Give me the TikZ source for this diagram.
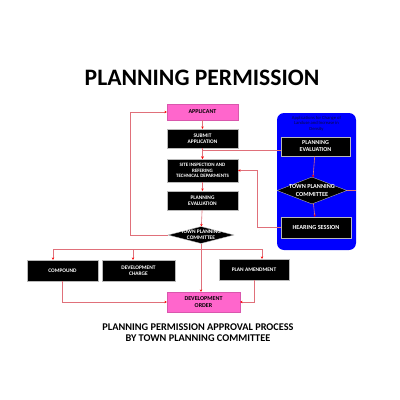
\documentclass[tikz,border=0pt]{standalone}
\usepackage{fontspec}
\setmainfont{Carlito}
\usetikzlibrary{shapes.geometric,arrows.meta,backgrounds}
\definecolor{pinkbox}{HTML}{FF66CC}
\definecolor{lineRed}{HTML}{E0707A}
\definecolor{panelBlue}{HTML}{0000FF}
\definecolor{panelText}{HTML}{0A0A40}
\begin{document}
\begin{tikzpicture}[x=1pt,y=-1pt,
  blk/.style={rectangle,fill=black,draw=gray!55,line width=0.4pt,text=white,
    font=\bfseries\fontsize{5.4}{6.2}\selectfont,align=center,inner sep=0pt},
  pnk/.style={rectangle,fill=pinkbox,draw=pinkbox!85!black,line width=0.3pt,text=black,
    font=\bfseries\fontsize{6}{7}\selectfont,align=center,inner sep=0pt},
  dia/.style={diamond,fill=black,draw=gray!40,line width=0.3pt,inner sep=0pt},
  diatext/.style={text=white,font=\bfseries\fontsize{5.4}{6.2}\selectfont,align=center,inner sep=0pt},
  con/.style={draw=lineRed,line width=0.6pt,-{Stealth[length=2.4pt,width=2.4pt,red]}},
  plain/.style={draw=lineRed,line width=0.6pt}
]
\useasboundingbox[fill=white] (0,0) rectangle (400,400);

% title
\node (title) at (202,78) {\fontsize{23.6}{28}\selectfont\bfseries PLANNING PERMISSION};

% main column
\node[pnk,minimum width=71pt,minimum height=16pt] (app) at (202.5,112) {APPLICANT};
\node[blk,minimum width=71pt,minimum height=19pt] (sub) at (202.5,138.5) {SUBMIT\\APPLICATION};
\node[blk,minimum width=71pt,minimum height=23pt,font=\bfseries\fontsize{5}{5.8}\selectfont] (site) at (202.5,170.5) {SITE INSPECTION AND\\REFERING\\TECHNICAL DEPARMENTS};
\node[blk,minimum width=71pt,minimum height=19pt] (pe) at (202.5,200.5) {PLANNING\\EVALUATION};
\node[dia,minimum width=66pt,minimum height=17pt] (d1) at (201,235) {};
\node[diatext] (d1t) at (d1) {TOWN PLANNING\\COMMITTEE};

% bottom row
\node[blk,minimum width=71pt,minimum height=21pt] (comp) at (62.5,270.5) {COMPOUND};
\node[blk,minimum width=73pt,minimum height=21pt] (chg) at (138.5,270.5) {DEVELOPMENT\\CHARGE};
\node[blk,minimum width=70pt,minimum height=21pt] (amd) at (254,269.5) {PLAN AMENDMENT};
\node[pnk,minimum width=73pt,minimum height=20pt] (dord) at (203.5,302) {DEVELOPMENT\\ORDER};

% blue panel
\node[rectangle,rounded corners=7pt,fill=panelBlue,minimum width=79pt,minimum height=137pt,inner sep=0pt] (panel) at (316.5,181.5) {};
\node[text=panelText,font=\fontsize{4.6}{5.4}\selectfont,align=center,inner sep=0pt] (ptxt) at (316.5,123.5)
  {Applications for Change of\\Landuse and Increase in\\Density};
\node[blk,minimum width=69pt,minimum height=19pt,font=\bfseries\fontsize{6}{7}\selectfont] (pe2) at (315.5,146.5) {PLANNING\\EVALUATION};
\node[dia,minimum width=70pt,minimum height=27pt] (d2) at (312,190.5) {};
\node[diatext,font=\bfseries\fontsize{6.2}{7.2}\selectfont] (d2t) at (d2) {TOWN PLANNING\\COMMITTEE};
\node[blk,minimum width=70pt,minimum height=21pt,font=\bfseries\fontsize{6.2}{7.2}\selectfont] (hear) at (316,227.5) {HEARING SESSION};

% caption
\node[font=\bfseries\fontsize{10.3}{11.5}\selectfont,align=center,inner sep=0pt] (cap) at (198,332.5)
  {PLANNING PERMISSION APPROVAL PROCESS\\BY TOWN PLANNING COMMITTEE};

% connectors behind the panel
\begin{scope}[on background layer]
  \draw[con] (d2.east) -- (373,190.5) |- (app.east |- 0,116);
\end{scope}
\draw[plain] (d2.east) -- (panel.east |- d2.east);

% main flow
\draw[con] (app) -- (sub);
\draw[con] (sub) -- (site);
\draw[con] (site) -- (pe);
\draw[con] (pe) -- (d1);
\draw[con] (d1.west) -- (130,235) |- (app.west);
\draw[con] (d1.south) -- (d1.south |- dord.north);
\coordinate (bus) at (201,249);
\draw[con] (bus) -| (comp.north -| 53,0);
\draw[con] (bus) -| (chg.north -| 133,0);
\draw[con] (bus) -| (amd.north -| 262,0);
\draw[con] (comp.south) |- (dord.west);
\draw[con] (amd.south) |- (dord.east);

% panel flow
\draw[con] (pe2) -- (d2);
\draw[con] (d2) -- (hear);
\draw[con] (pe2.west |- 0,150) -| (site.north);
\draw[con] (hear.west) -- (257,227.5) |- (site.east);
\end{tikzpicture}
\end{document}
